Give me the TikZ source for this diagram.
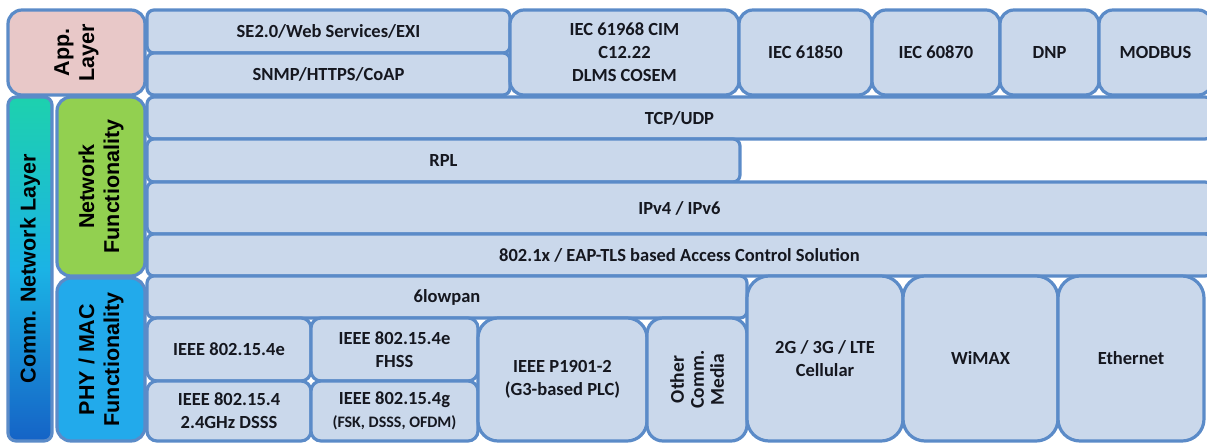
\documentclass[tikz,border=0pt]{standalone}
\usepackage{fontspec}
\setmainfont{Carlito}
\newfontfamily\arialfont{Liberation Sans}

\definecolor{cellfill}{HTML}{CAD8EB}
\definecolor{cellline}{HTML}{5B8BC8}
\definecolor{txt}{HTML}{15171F}
\definecolor{apppink}{HTML}{E8C8C8}
\definecolor{netgreen}{HTML}{92D050}
\definecolor{phyblue}{HTML}{22AAEB}
\definecolor{commteal}{HTML}{1DD1AE}
\definecolor{commcyan}{HTML}{1BB3E5}
\definecolor{commblue}{HTML}{1563C6}

\begin{document}
\begin{tikzpicture}[x=1pt, y=-1pt]
 \tikzstyle{cell}=[draw=cellline, fill=cellfill, line width=3.2pt, rounded corners=7pt, inner sep=0pt, align=center, text=txt, font=\bfseries\fontsize{18.5}{23}\selectfont]
 \tikzstyle{layer}=[draw=cellline, line width=3.2pt, rounded corners=14pt, inner sep=0pt, align=center, text=black, rotate=90, font=\arialfont\bfseries\fontsize{21.5}{25}\selectfont]
 \path[use as bounding box, clip] (0,0) rectangle (1207,445);
 %
 \node[layer, fill=apppink, minimum width=85pt, minimum height=137pt] (app) at (76.5,52.5) {App.\\Layer};
 \node[layer, rounded corners=8pt, top color=commteal, bottom color=commblue, middle color=commcyan, minimum width=344pt, minimum height=44pt] (comm) at (30,269) {Comm. Network Layer};
 \node[layer, fill=netgreen, minimum width=179pt, minimum height=88pt] (netf) at (101,186.5) {Network\\Functionality};
 \node[layer, fill=phyblue, minimum width=163pt, minimum height=88pt] (phy) at (101,359.5) {PHY / MAC\\Functionality};
 %
 \node[cell, minimum width=363pt, minimum height=43pt] (se) at (328.5,31.5) {SE2.0/Web Services/EXI};
 \node[cell, minimum width=363pt, minimum height=42pt] (snmp) at (328.5,74) {SNMP/HTTPS/CoAP};
 \node[cell, rounded corners=14pt, minimum width=229pt, minimum height=85pt] (cim) at (624.5,52.5) {IEC 61968 CIM\\C12.22\\DLMS COSEM};
 \node[cell, rounded corners=14pt, minimum width=133pt, minimum height=85pt] (iec61850) at (805.5,52.5) {IEC 61850};
 \node[cell, rounded corners=14pt, minimum width=128pt, minimum height=85pt] (iec60870) at (936,52.5) {IEC 60870};
 \node[cell, rounded corners=14pt, minimum width=99pt, minimum height=85pt] (dnp) at (1049.5,52.5) {DNP};
 \node[cell, rounded corners=14pt, minimum width=113pt, minimum height=85pt] (modbus) at (1155.5,52.5) {MODBUS};
 %
 \node[cell, minimum width=1065pt, minimum height=42pt] (tcp) at (679.5,118) {TCP/UDP};
 \node[cell, minimum width=593pt, minimum height=43pt] (rpl) at (443.5,160.5) {RPL};
 \node[cell, minimum width=1065pt, minimum height=52pt] (ip) at (679.5,208) {IPv4 / IPv6};
 \node[cell, minimum width=1065pt, minimum height=42pt] (eap) at (679.5,255) {802.1x / EAP-TLS based Access Control Solution};
 %
 \node[cell, minimum width=600pt, minimum height=42pt] (lowpan) at (447,297) {6lowpan};
 \node[cell, rounded corners=10pt, minimum width=164pt, minimum height=63pt] (ieeeE) at (229,349.5) {IEEE 802.15.4e};
 \node[cell, rounded corners=10pt, minimum width=167pt, minimum height=63pt] (fhss) at (394.5,349.5) {IEEE 802.15.4e\\FHSS};
 \node[cell, rounded corners=10pt, minimum width=164pt, minimum height=60pt] (dsss) at (229,411) {IEEE 802.15.4\\2.4GHz DSSS};
 \node[cell, rounded corners=10pt, minimum width=167pt, minimum height=60pt] (ieeeG) at (394.5,411) {IEEE 802.15.4g\\{\fontsize{16}{19}\selectfont(FSK, DSSS, OFDM)}};
 \node[cell, rounded corners=20pt, minimum width=169pt, minimum height=123pt] (plc) at (562.5,379.5) {IEEE P1901-2\\(G3-based PLC)};
 \node[cell, rounded corners=16pt, rotate=90, minimum width=123pt, minimum height=100pt, font=\bfseries\fontsize{19.5}{20}\selectfont] (other) at (697,379.5) {Other\\Comm.\\Media};
 \node[cell, rounded corners=22pt, minimum width=156pt, minimum height=165pt] (cellular) at (825,358.5) {2G / 3G / LTE\\Cellular};
 \node[cell, rounded corners=22pt, minimum width=155pt, minimum height=165pt] (wimax) at (980.5,358.5) {WiMAX};
 \node[cell, rounded corners=22pt, minimum width=146pt, minimum height=165pt] (eth) at (1131,358.5) {Ethernet};
\end{tikzpicture}
\end{document}
